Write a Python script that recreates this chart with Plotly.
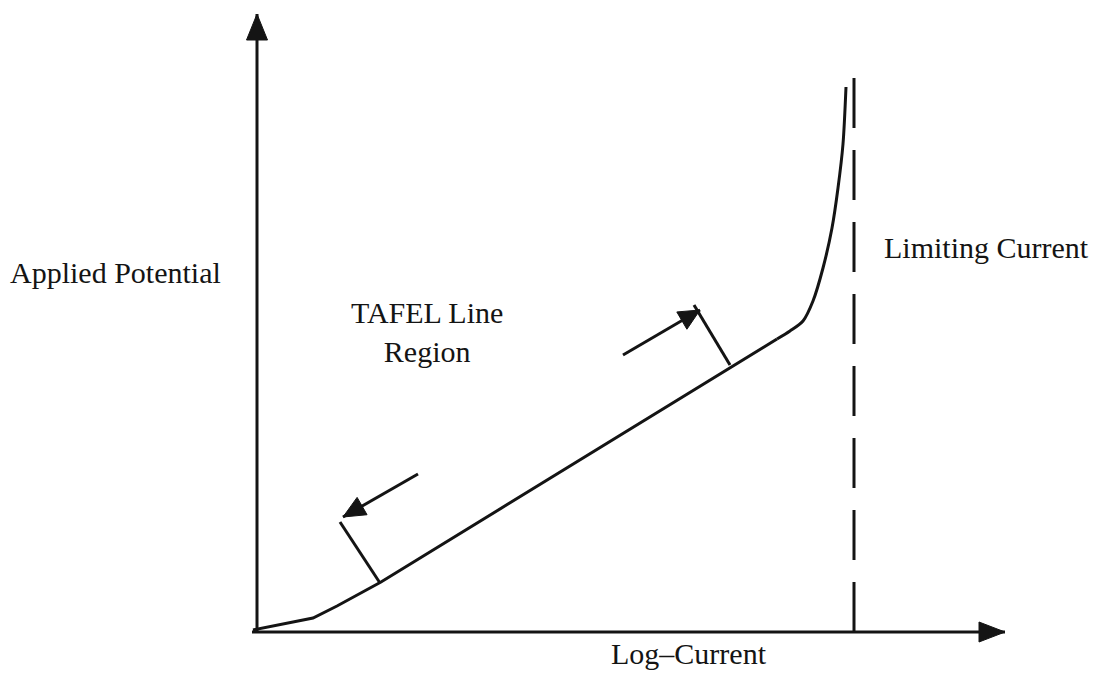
import numpy as np
import plotly.graph_objects as go

# ---- data (units: arbitrary, origin at axes intersection) ----
# lower (Tafel) part of the polarisation curve
curve_x = [-4, 56, 80, 124, 520]
curve_y = [2, 14, 26, 50, 293]
# upper part approaching the limiting current
rise_x = [520, 533, 546, 556, 566, 575, 581, 586, 589]
rise_y = [293, 301, 311, 331, 364, 404, 444, 488, 545]

limit_x = [597, 597]
limit_y = [0, 554]

yaxis_x = [0, 0]
yaxis_y = [0, 618]
xaxis_x = [-5, 748]
xaxis_y = [0, 0]

# perpendicular markers on the Tafel line
mark1_x = [123, 83]
mark1_y = [49, 110]
arrow1_x = [161, 86]
arrow1_y = [158, 115]

mark2_x = [473, 437]
mark2_y = [267, 327]
arrow2_x = [366, 443]
arrow2_y = [277, 322]

labels = ["Applied Potential", "Limiting Current", "TAFEL Line<br>Region", "Log–Current"]
label_x = [-142, 729, 170, 432]
label_y = [360, 385, 300, -21]

INK = "#141414"

fig = go.Figure()


def add_line(xs, ys, dash=None, width=3, shape="linear"):
    fig.add_trace(go.Scatter(x=xs, y=ys, mode="lines",
                             line=dict(color=INK, width=width, dash=dash, shape=shape,
                                       smoothing=0.8 if shape == "spline" else None),
                             hoverinfo="skip", showlegend=False))


def add_head(xs, ys, length=26, width=21):
    tail = np.array([xs[0], ys[0]], float)
    tip = np.array([xs[-1], ys[-1]], float)
    d = tip - tail
    d /= np.linalg.norm(d)
    n = np.array([-d[1], d[0]])
    base = tip - d * length
    p1 = base + n * width / 2
    p2 = base - n * width / 2
    fig.add_trace(go.Scatter(x=[tip[0], p1[0], p2[0], tip[0]],
                             y=[tip[1], p1[1], p2[1], tip[1]],
                             mode="lines", fill="toself", fillcolor=INK,
                             line=dict(color=INK, width=1),
                             hoverinfo="skip", showlegend=False))


add_line(yaxis_x, yaxis_y)
add_head(yaxis_x, yaxis_y, 26, 21)
add_line(xaxis_x, xaxis_y)
add_head(xaxis_x, xaxis_y, 26, 20)

add_line(curve_x, curve_y, width=3)
add_line(rise_x, rise_y, width=3, shape="spline")
add_line(limit_x, limit_y, dash="50px,22px", width=3)

add_line(mark1_x, mark1_y)
add_line(arrow1_x, arrow1_y)
add_head(arrow1_x, arrow1_y, 22, 20)
add_line(mark2_x, mark2_y)
add_line(arrow2_x, arrow2_y)
add_head(arrow2_x, arrow2_y, 21, 20)

for t, x, y in zip(labels, label_x, label_y):
    fig.add_annotation(x=x, y=y, text=t, showarrow=False,
                       font=dict(family="Liberation Serif, Times New Roman, serif",
                                 size=30, color=INK),
                       xanchor="center", yanchor="middle")

fig.update_layout(
    width=1101, height=674,
    margin=dict(l=0, r=0, t=0, b=0),
    paper_bgcolor="white", plot_bgcolor="white",
    xaxis=dict(range=[-249, 852], visible=False, fixedrange=True),
    yaxis=dict(range=[-50, 624], visible=False, fixedrange=True),
    showlegend=False,
)

fig.write_html("out.html")
